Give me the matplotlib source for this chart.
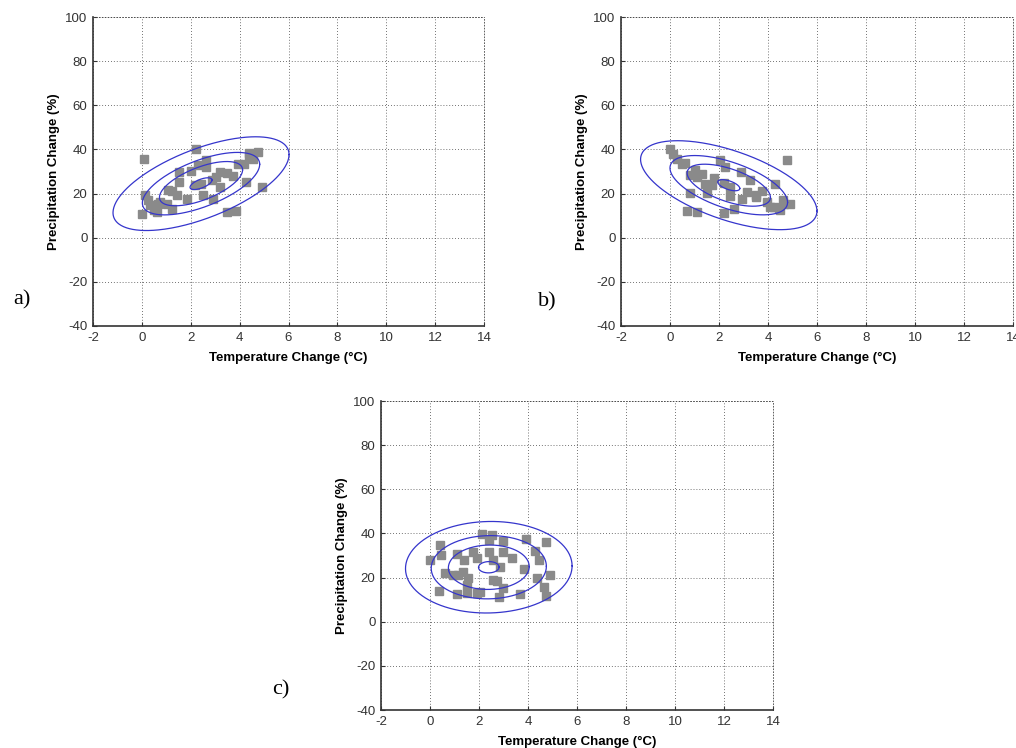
import numpy as np
import matplotlib
matplotlib.use("Agg")
import matplotlib.pyplot as plt

# scatter points (temperature change, precipitation change)
a_temp = [0.10, 2.22, 0.00, 0.13, 0.27, 0.33, 0.50, 0.65, 0.48, 0.62, 0.75, 1.02, 1.22, 1.05,
          1.45, 1.50, 1.50, 1.84, 2.00, 2.17, 2.40, 2.52, 2.62, 2.62, 2.90, 2.86, 3.02, 3.20,
          3.20, 3.48, 3.72, 3.48, 3.86, 4.25, 3.92, 4.18, 4.40, 4.37, 4.77, 4.90, 4.55, 1.25, 2.30]
a_prec = [35.5, 40.0, 10.6, 19.5, 17.0, 14.8, 13.5, 15.5, 12.4, 11.7, 16.0, 15.5, 12.8, 21.5,
          19.2, 25.3, 29.8, 17.7, 30.4, 23.8, 24.4, 19.2, 35.3, 32.0, 17.7, 26.0, 27.5, 23.0,
          29.6, 29.5, 28.0, 11.7, 12.2, 25.2, 33.5, 33.6, 36.5, 38.6, 39.0, 22.8, 35.5, 21.0, 33.0]

b_temp = [0.00, 0.12, 0.29, 0.49, 0.60, 0.70, 1.10, 0.83, 0.83, 1.04, 1.30, 1.45, 1.50, 1.80,
          2.04, 2.26, 2.22, 2.47, 2.44, 2.22, 2.63, 2.88, 2.95, 3.15, 3.26, 3.50, 3.77, 3.97,
          4.27, 4.24, 4.45, 4.65, 4.90, 4.79, 4.50, 4.10, 1.10, 1.70, 3.50, 4.60]
b_prec = [40.0, 38.0, 35.8, 33.5, 34.0, 12.2, 11.7, 20.3, 28.3, 30.5, 29.0, 24.5, 20.3, 27.0,
          35.3, 32.0, 24.8, 23.0, 18.8, 11.0, 12.8, 29.8, 17.7, 20.8, 26.0, 18.5, 21.2, 16.2,
          24.5, 14.0, 13.2, 15.5, 15.2, 35.3, 12.5, 14.0, 27.5, 24.0, 19.5, 17.0]

c_temp = [0.00, 0.41, 0.44, 0.37, 0.61, 0.95, 1.16, 1.36, 1.09, 1.09, 1.40, 1.50, 1.57, 1.50,
          1.77, 1.90, 1.90, 2.05, 2.11, 2.39, 2.52, 2.42, 2.59, 2.56, 2.73, 2.84, 2.80, 3.00,
          3.00, 2.97, 3.34, 3.68, 3.82, 3.92, 4.30, 4.43, 4.37, 4.64, 4.75, 4.75, 4.88]
c_prec = [27.8, 34.7, 30.2, 14.0, 22.3, 21.0, 21.4, 22.6, 12.4, 30.9, 27.9, 12.8, 19.8, 16.6,
          31.7, 28.7, 12.8, 13.6, 39.7, 37.0, 39.2, 31.7, 27.9, 18.9, 18.5, 24.9, 11.3, 36.5,
          31.7, 15.1, 29.0, 12.4, 23.7, 37.4, 32.0, 27.9, 19.6, 15.8, 36.2, 11.8, 21.4]

# contour ellipses: centre, y spread per unit x, correlation, x half-widths
a_ell = dict(cx=2.42, cy=24.5, sy=5.9, rho=0.62, radii=[0.45, 1.7, 2.4, 3.6])
b_ell = dict(cx=2.40, cy=23.8, sy=5.6, rho=-0.58, radii=[0.45, 1.7, 2.4, 3.6])
c_ell = dict(cx=2.40, cy=24.7, sy=6.1, rho=0.03, radii=[0.42, 1.65, 2.35, 3.4])

xticks = [-2, 0, 2, 4, 6, 8, 10, 12, 14]
yticks = [-40, -20, 0, 20, 40, 60, 80, 100]

plt.rcParams['font.family'] = ['Liberation Sans', 'DejaVu Sans']
plt.rcParams['axes.unicode_minus'] = False

fig = plt.figure(figsize=(10.16, 7.48), dpi=100)


def panel(rect, temp, prec, ell, tag, tagpos):
    ax = fig.add_axes(rect)
    ax.set_xlim(-2, 14)
    ax.set_ylim(-40, 100)
    ax.set_xticks(xticks)
    ax.set_yticks(yticks)
    ax.grid(True, color='#444444', ls=(0, (1, 2.5)), lw=0.6)
    ax.set_axisbelow(True)
    for s in ['top', 'right']:
        ax.spines[s].set_linestyle((0, (1, 2.5)))
        ax.spines[s].set_linewidth(0.6)
        ax.spines[s].set_color('#444444')
    for s in ['left', 'bottom']:
        ax.spines[s].set_color('#333333')
        ax.spines[s].set_linewidth(1.2)
    ax.tick_params(direction='in', length=3, width=0.8, colors='#333333',
                   labelsize=9.5, top=False, right=False, pad=4)

    ax.plot(temp, prec, 's', color='#8a8a8a', ms=5.5, mec='#8a8a8a', zorder=2)

    t = np.linspace(0, 2 * np.pi, 300)
    for r in ell['radii']:
        ex = ell['cx'] + r * np.cos(t)
        ey = ell['cy'] + r * ell['sy'] * (ell['rho'] * np.cos(t)
                                          + np.sqrt(1 - ell['rho'] ** 2) * np.sin(t))
        ax.plot(ex, ey, color='#3535cc', lw=0.9, zorder=3)

    ax.set_xlabel('Temperature Change (°C)', fontsize=9.5, fontweight='bold', labelpad=6)
    ax.set_ylabel('Precipitation Change (%)', fontsize=9.5, fontweight='bold', labelpad=4)
    fig.text(tagpos[0], tagpos[1], tag, family='Liberation Serif', fontsize=16,
             ha='center', va='center')
    return ax


panel([0.0915, 0.5642, 0.385, 0.413], a_temp, a_prec, a_ell, 'a)', (22 / 1016, 1 - 300 / 748))
panel([0.6112, 0.5642, 0.3858, 0.413], b_temp, b_prec, b_ell, 'b)', (547 / 1016, 1 - 302 / 748))
panel([0.375, 0.0508, 0.3858, 0.413], c_temp, c_prec, c_ell, 'c)', (281 / 1016, 1 - 690 / 748))

fig.savefig('out.png', dpi=100)
